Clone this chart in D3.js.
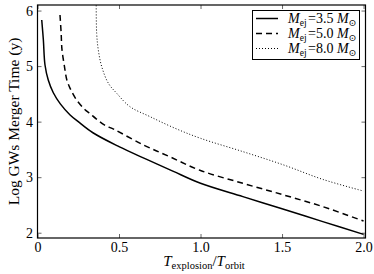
<!DOCTYPE html>
<html>
<head>
<meta charset="utf-8">
<script src="https://cdn.jsdelivr.net/npm/d3@7"></script>
<style>
  body { margin: 0; background: #fff; }
  svg text { font-family: "Liberation Serif", "DejaVu Serif", serif; fill: #000; }
</style>
</head>
<body>
<div id="chart"></div>
<script>
var width = 374
var height = 274

// T_explosion / T_orbit and log merger time for each ejected mass
var xSolid = [0.026, 0.036, 0.046, 0.066, 0.097, 0.14, 0.2, 0.25, 0.34, 0.5, 0.67, 0.83, 1.0, 1.26, 1.49, 1.75, 2.0]
var ySolid = [5.83, 5.47, 5.02, 4.75, 4.52, 4.32, 4.12, 4.0, 3.8, 3.55, 3.32, 3.11, 2.89, 2.65, 2.44, 2.2, 1.97]

var xDashed = [0.138, 0.145, 0.15, 0.165, 0.18, 0.2, 0.24, 0.29, 0.32, 0.36, 0.41, 0.47, 0.65, 0.81, 1.0, 1.26, 1.51, 1.75, 2.0]
var yDashed = [5.92, 5.6, 5.3, 5.0, 4.75, 4.6, 4.39, 4.22, 4.15, 4.05, 3.94, 3.86, 3.58, 3.37, 3.12, 2.89, 2.68, 2.47, 2.21]

var xDotted = [0.36, 0.363, 0.373, 0.394, 0.435, 0.486, 0.567, 0.69, 0.844, 1.0, 1.26, 1.51, 1.75, 2.0]
var yDotted = [6.2, 5.59, 5.29, 4.99, 4.69, 4.51, 4.27, 4.09, 3.88, 3.70, 3.46, 3.22, 2.96, 2.75]

var massLabels = ['3.5', '5.0', '8.0']
var xTicks = [0, 0.5, 1.0, 1.5, 2.0]
var xTickLabels = ['0', '0.5', '1.0', '1.5', '2.0']
var yTicks = [2, 3, 4, 5, 6]

var series = [
  {x: xSolid, y: ySolid, dash: null, lw: 1.5},
  {x: xDashed, y: yDashed, dash: '6,4', lw: 1.5},
  {x: xDotted, y: yDotted, dash: '1,2', lw: 1}
]

var pLeft = 37.5, pRight = 365.5, pTop = 5, pBottom = 238

var x = d3.scaleLinear().domain([0, 2.012]).range([pLeft, pRight])
var y = d3.scaleLinear().domain([1.905, 6.1]).range([pBottom, pTop])

var svg = d3.select('#chart')
  .append('svg')
  .attr('width', width)
  .attr('height', height)

svg.append('defs').append('clipPath')
  .attr('id', 'clip')
  .append('rect')
  .attr('x', pLeft).attr('y', pTop)
  .attr('width', pRight - pLeft).attr('height', pBottom - pTop)

var line = d3.line()
  .x(function(d) { return x(d[0]) })
  .y(function(d) { return y(d[1]) })
  .curve(d3.curveCatmullRom.alpha(0.5))

var plot = svg.append('g').attr('clip-path', 'url(#clip)')

series.forEach(function(s) {
  var pts = s.x.map(function(v, i) { return [v, s.y[i]] })
  plot.append('path')
    .datum(pts)
    .attr('d', line)
    .attr('fill', 'none')
    .attr('stroke', '#000')
    .attr('stroke-width', s.lw)
    .attr('stroke-dasharray', s.dash)
})

// ticks, inward on all four sides
var xb = d3.axisBottom(x).tickValues(xTicks).tickSize(-4).tickPadding(4)
  .tickFormat(function(d, i) { return xTickLabels[i] })
var xt = d3.axisTop(x).tickValues(xTicks).tickSize(-4).tickFormat('')
var yl = d3.axisLeft(y).tickValues(yTicks).tickSize(-4).tickPadding(4.5).tickFormat(d3.format('d'))
var yr = d3.axisRight(y).tickValues(yTicks).tickSize(-4).tickFormat('')

function styleAxis(g) {
  g.select('.domain').remove()
  g.selectAll('.tick line').attr('stroke', '#000').attr('stroke-width', 0.6)
  g.selectAll('.tick text')
    .style('font-size', '14px')
    .style('font-family', '"Liberation Serif", serif')
}

svg.append('g').attr('transform', 'translate(0,' + pBottom + ')').call(xb).call(styleAxis)
svg.append('g').attr('transform', 'translate(0,' + pTop + ')').call(xt).call(styleAxis)
svg.append('g').attr('transform', 'translate(' + pLeft + ',0)').call(yl).call(styleAxis)
svg.append('g').attr('transform', 'translate(' + pRight + ',0)').call(yr).call(styleAxis)

svg.append('rect')
  .attr('x', pLeft).attr('y', pTop)
  .attr('width', pRight - pLeft).attr('height', pBottom - pTop)
  .attr('fill', 'none')
  .attr('stroke', '#000')
  .attr('stroke-width', 1.2)

// axis labels
var xl = svg.append('text')
  .attr('x', 204).attr('y', 266)
  .attr('text-anchor', 'middle')
  .attr('font-size', 15)
xl.append('tspan').attr('font-style', 'italic').text('T')
xl.append('tspan').attr('font-size', 10.5).attr('dy', 3).text('explosion')
xl.append('tspan').attr('dy', -3).text('/')
xl.append('tspan').attr('font-style', 'italic').text('T')
xl.append('tspan').attr('font-size', 10.5).attr('dy', 3).text('orbit')

svg.append('text')
  .attr('transform', 'translate(19,' + ((pTop + pBottom) / 2) + ') rotate(-90)')
  .attr('text-anchor', 'middle')
  .attr('font-size', 15.5)
  .text('Log GWs Merger Time (y)')

// legend
var legend = svg.append('g')
legend.append('rect')
  .attr('x', 252.5).attr('y', 10.5)
  .attr('width', 107).attr('height', 49)
  .attr('fill', '#fff')
  .attr('stroke', '#000')
  .attr('stroke-width', 1)

series.forEach(function(s, i) {
  var ry = 18.5 + i * 15
  legend.append('line')
    .attr('x1', 256).attr('x2', 278)
    .attr('y1', ry).attr('y2', ry)
    .attr('stroke', '#000')
    .attr('stroke-width', s.lw)
    .attr('stroke-dasharray', s.dash)
  var t = legend.append('text')
    .attr('x', 288).attr('y', ry + 4)
    .attr('font-size', 14)
  t.append('tspan').attr('font-style', 'italic').text('M')
  t.append('tspan').attr('font-size', 9.5).attr('dy', 3).text('ej')
  t.append('tspan').attr('dy', -3).attr('dx', 1.5).text('=' + massLabels[i] + ' ')
  t.append('tspan').attr('font-style', 'italic').text('M')
  t.append('tspan').attr('font-size', 9.5).attr('dy', 3).text('\u2299')
})
</script>
</body>
</html>
